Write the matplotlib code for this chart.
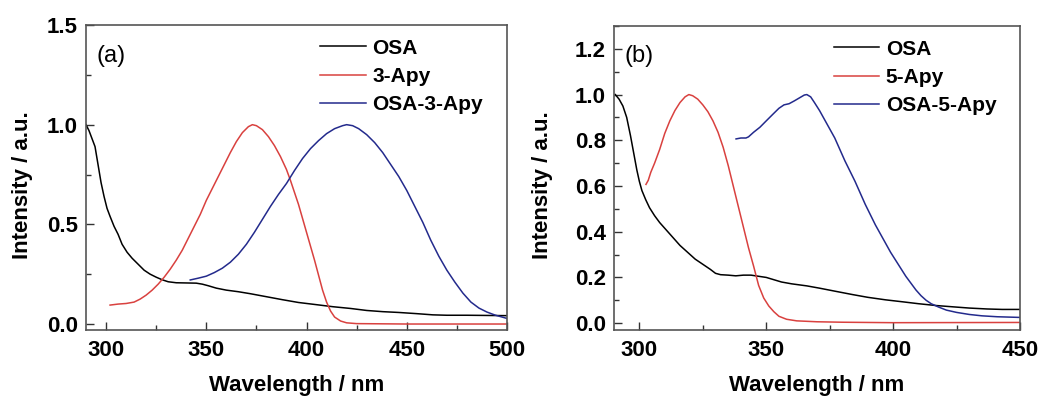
import matplotlib.pyplot as plt
from matplotlib.ticker import MultipleLocator

# panel (a)
osa_a_x = [290, 291.5, 293, 294.5, 296, 297.5, 299, 300.5, 302, 304, 306, 308, 310.5, 313, 316,
           319, 322, 325, 328, 331, 335, 340, 345, 348, 351, 355, 360, 366, 372, 380, 388,
           396, 405, 413, 422, 430, 438, 446, 455, 463, 470, 480, 490, 500]
osa_a_y = [1.0, 0.97, 0.93, 0.89, 0.8, 0.71, 0.64, 0.58, 0.54, 0.49, 0.45, 0.4, 0.36, 0.33, 0.3,
           0.27, 0.25, 0.235, 0.222, 0.212, 0.207, 0.206, 0.205, 0.2, 0.192, 0.18, 0.17, 0.162,
           0.152, 0.137, 0.122, 0.108, 0.097, 0.087, 0.078, 0.068, 0.062, 0.058, 0.052, 0.046,
           0.044, 0.044, 0.043, 0.042]
apy3_x = [302, 306, 310, 314, 317, 320, 323, 326, 329, 332, 335, 338, 341, 344, 347, 350, 353,
          356, 359, 362, 365, 368, 371, 373, 375, 378, 381, 384, 387, 390, 392, 394, 396, 398,
          400, 402, 404, 406, 408, 410, 412, 414, 417, 420, 425, 450, 500]
apy3_y = [0.095, 0.1, 0.103, 0.11, 0.125, 0.145, 0.17, 0.2, 0.235, 0.275, 0.32, 0.37, 0.43,
          0.49, 0.55, 0.62, 0.68, 0.74, 0.8, 0.86, 0.915, 0.96, 0.99, 1.0, 0.995, 0.975, 0.94,
          0.895, 0.84, 0.775, 0.72, 0.66, 0.6, 0.53, 0.46, 0.39, 0.32, 0.245, 0.17, 0.11,
          0.065, 0.035, 0.015, 0.006, 0.002, 0.0, 0.0]
osa3_x = [342, 346, 350, 354, 358, 362, 366, 370, 374, 378, 382, 386, 390, 394, 398, 402, 406,
          410, 414, 418, 420, 423, 426, 430, 434, 438, 442, 446, 450, 454, 458, 462, 466, 470,
          474, 478, 482, 486, 490, 494, 500]
osa3_y = [0.221, 0.23, 0.24, 0.258, 0.28, 0.31, 0.35, 0.4, 0.46, 0.525, 0.59, 0.65, 0.705,
          0.77, 0.83, 0.88, 0.92, 0.955, 0.98, 0.995, 1.0, 0.995, 0.98, 0.95, 0.91, 0.86, 0.8,
          0.74, 0.67, 0.59, 0.51, 0.42, 0.34, 0.27, 0.21, 0.155, 0.11, 0.08, 0.06, 0.045, 0.028]

# panel (b)
osa_b_x = [290.5, 292, 293.5, 295, 296.5, 298, 299, 300, 301, 302.5, 304, 306, 308, 310, 312,
           314, 316, 318, 320, 322, 324, 326, 328, 330, 332, 335, 338, 341, 344, 347, 350, 353,
           356, 360, 366, 371, 377, 384, 390, 397, 404, 410, 417, 424, 430, 437, 443, 450]
osa_b_y = [1.0, 0.98, 0.95, 0.9, 0.82, 0.73, 0.67, 0.62, 0.58, 0.54, 0.505, 0.47, 0.44, 0.415,
           0.39, 0.365, 0.34, 0.32, 0.3, 0.28, 0.265, 0.25, 0.235, 0.218, 0.212, 0.21, 0.207,
           0.21, 0.21, 0.205, 0.2, 0.19, 0.18, 0.172, 0.163, 0.153, 0.14, 0.125, 0.113, 0.102,
           0.093, 0.085, 0.077, 0.071, 0.066, 0.062, 0.06, 0.06]
apy5_x = [302.6, 303.5, 304.5, 306, 308, 310, 312, 314, 316, 318, 319.5, 321, 323, 325, 327,
          329, 331, 333, 335, 337, 339, 341, 343, 345, 347, 349, 351, 353, 355, 358, 362, 370,
          380, 400, 450]
apy5_y = [0.607, 0.625, 0.66, 0.7, 0.76, 0.83, 0.885, 0.93, 0.965, 0.99, 1.0, 0.995, 0.98,
          0.955, 0.925, 0.885, 0.835, 0.77, 0.69, 0.6, 0.51, 0.42, 0.33, 0.25, 0.165, 0.11,
          0.075, 0.05, 0.03, 0.017, 0.01, 0.006, 0.004, 0.002, 0.003]
osa5_x = [338.1, 340, 342, 343, 345, 347.5, 350, 352.8, 355, 357, 359, 361, 363, 365, 366,
          367.5, 369, 371, 373, 375, 377, 379, 381, 383, 385, 387, 389, 391, 393, 395, 397,
          399, 401, 403, 405, 407, 409, 411, 413, 415, 418, 421, 425, 430, 435, 441, 450]
osa5_y = [0.806, 0.81, 0.81, 0.815, 0.835, 0.857, 0.885, 0.916, 0.94, 0.955, 0.96, 0.972,
          0.985, 0.998, 1.0, 0.99, 0.965, 0.93, 0.89, 0.85, 0.81, 0.76, 0.71, 0.665, 0.62,
          0.57, 0.52, 0.475, 0.43, 0.39, 0.35, 0.31, 0.275, 0.24, 0.205, 0.175, 0.145, 0.12,
          0.1, 0.085, 0.07, 0.057, 0.047, 0.038, 0.032, 0.028, 0.025]

red = '#d9413f'
blue = '#232a8c'

plt.rcParams['font.family'] = 'Liberation Sans'
fig = plt.figure(figsize=(10.64, 3.97), dpi=100)
ax1 = fig.add_axes([86 / 1064, 1 - 330 / 397, 421 / 1064, 305 / 397])
ax2 = fig.add_axes([614 / 1064, 1 - 330 / 397, 406 / 1064, 304 / 397])

panels = [
    (ax1, osa_a_x, osa_a_y, apy3_x, apy3_y, osa3_x, osa3_y, '3-Apy', 'OSA-3-Apy', '(a)',
     (290, 500), (-0.03, 1.5), 0.5, 0.25, -0.126),
    (ax2, osa_b_x, osa_b_y, apy5_x, apy5_y, osa5_x, osa5_y, '5-Apy', 'OSA-5-Apy', '(b)',
     (290, 450), (-0.03, 1.3), 0.2, 0.1, -0.15),
]
for (ax, ox, oy, rx, ry, bx, by, l2, l3, tag, xl, yl, ymaj, ymin, ylx) in panels:
    ax.plot(ox, oy, color='black', lw=1.1, label='OSA')
    ax.plot(rx, ry, color=red, lw=1.1, label=l2)
    ax.plot(bx, by, color=blue, lw=1.1, label=l3)
    ax.set_xlim(*xl)
    ax.set_ylim(*yl)
    ax.xaxis.set_major_locator(MultipleLocator(50))
    ax.xaxis.set_minor_locator(MultipleLocator(25))
    ax.yaxis.set_major_locator(MultipleLocator(ymaj))
    ax.yaxis.set_minor_locator(MultipleLocator(ymin))
    ax.tick_params(which='both', direction='in', labelsize=16, width=1, color='#333333')
    ax.tick_params(which='major', length=6)
    ax.tick_params(which='minor', length=3.5)
    ax.tick_params(axis='x', which='major', pad=7)
    ax.tick_params(axis='y', which='major', pad=6)
    for lab in ax.get_xticklabels() + ax.get_yticklabels():
        lab.set_fontweight('bold')
    for s in ax.spines.values():
        s.set_color('#555555')
        s.set_linewidth(1.2)
    ax.set_xlabel('Wavelength / nm', fontsize=16, fontweight='bold', labelpad=10)
    ax.set_ylabel('Intensity / a.u.', fontsize=16, fontweight='bold')
    ax.yaxis.set_label_coords(ylx, 0.475)
    ax.text(0.025, 0.9, tag, transform=ax.transAxes, fontsize=17, va='center')
    ax.legend(loc='upper right', bbox_to_anchor=(0.975, 1.0), frameon=False,
              prop={'size': 15, 'weight': 'bold'}, handlelength=2.2, handletextpad=0.3,
              labelspacing=0.45, borderaxespad=0.25)

fig.savefig('out.png', dpi=100)
